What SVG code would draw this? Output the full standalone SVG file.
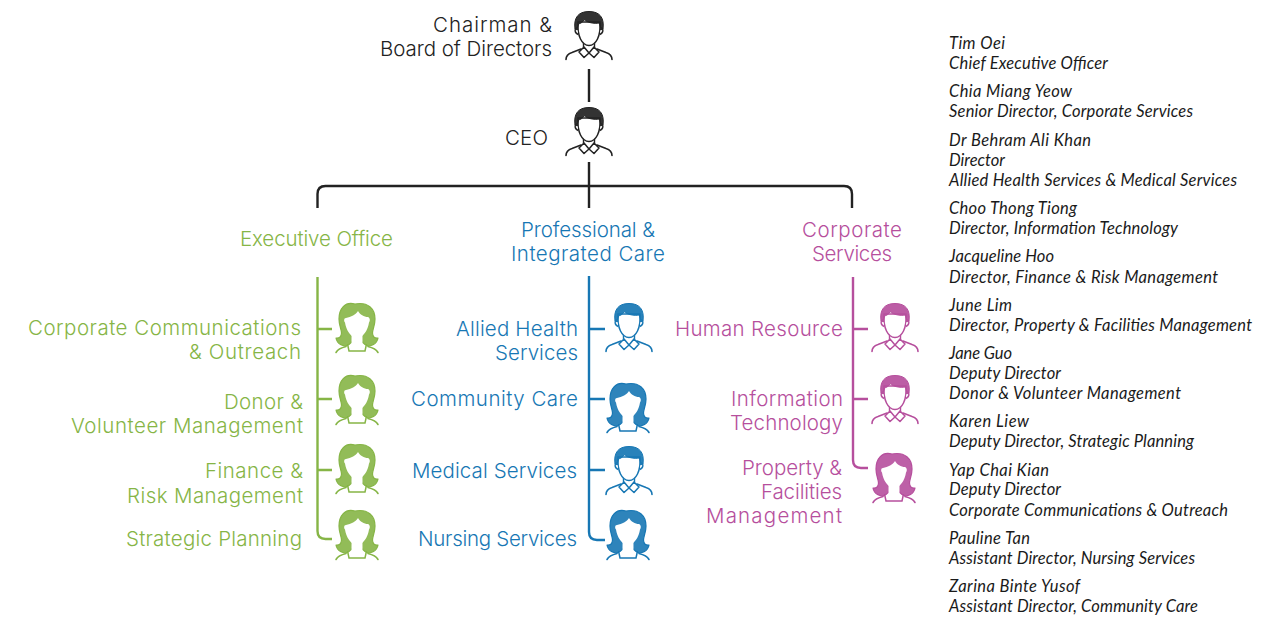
<svg xmlns="http://www.w3.org/2000/svg" width="1280" height="618" viewBox="0 0 1280 618">
<style>
text{font-family:"Lato","Liberation Sans",sans-serif}
.h{font-family:"Inter","Liberation Sans",sans-serif;font-size:20.5px;font-weight:300}
.k{color:#222;fill:#222}
.g{color:#86b546;fill:#86b546}
.b{color:#1777b4;fill:#1777b4}
.p{color:#b64f9d;fill:#b64f9d}
.i{font-size:16.5px;font-style:italic;fill:#1a1a1a}
.c{fill:none;stroke-width:2.4;stroke-linecap:butt}
</style>
<defs>
<g id="man">
<path d="M-23,47.5C-23,43 -20,41.5 -17,40.5L-8,37M23,47.5C23,43 20,41.5 17,40.5L8,37" fill="none" stroke="currentColor" stroke-width="1.6" stroke-linecap="round"/>
<path d="M0,41L-5,35L-10,40L-5,45.5ZM0,41L5,35L10,40L5,45.5Z" fill="#fff" stroke="currentColor" stroke-width="1.5" stroke-linejoin="round"/>
<path d="M-5.5,30V35M5.5,30V35" stroke="currentColor" stroke-width="1.4"/>
<path d="M-11,10C-12,24 -7,33.500 0,33.500C7,33.500 12,24 11,10Z" fill="#fff" stroke="currentColor" stroke-width="1.5"/>
<path d="M-11.500,16C-14.500,15 -15,21 -11,22.500M11.500,16C14.500,15 15,21 11,22.500" fill="#fff" stroke="currentColor" stroke-width="1.4"/>
<path d="M-14,17C-15.500,6 -11,-0.500 0,-0.500C11,-0.500 15.500,6 14,17L11.500,18L10.500,11C5,12 -2,10.500 -5,7.500C-6,10.500 -9,11.500 -10.500,12L-11.500,18Z" fill="currentColor" fill-opacity=".92" stroke="currentColor" stroke-width="1" stroke-linejoin="round"/>
</g>
<g id="woman">
<path d="M-21,49.500C-19,46 -15,44.500 -11,43.500M21,49.500C19,46 15,44.500 11,43.500" fill="none" stroke="currentColor" stroke-width="1.600" stroke-linecap="round"/>
<path d="M-9.500,41L-8,48H8L9.500,41" fill="#fff" stroke="currentColor" stroke-width="1.500"/>
<path d="M-2,1C-12,-2 -18,6 -18,16C-18,23 -15.500,26 -15.500,30C-15.500,34 -18,35.500 -21,35C-20,41 -13,45 -8,41.500C-5,39.500 -4.500,36 -5.500,33.500H5.500C4.500,36 5,39.500 8,41.500C13,45 20,41 21,35C18,35.500 15.500,34 15.500,30C15.500,26 18,23 18,16C18,6 11,-1.500 -2,1Z" fill="currentColor" fill-opacity=".9" stroke="currentColor" stroke-width="1.200" stroke-linejoin="round"/>
<path d="M-11,15C-6,14 -1,11.500 1,8C3,11.500 7,14 11,14C13.500,15 13,18.500 12,19.500C11,27 6,35 0,35C-6,35 -11,27 -12,19.500C-13,18.500 -13.500,15 -11,15Z" fill="#fff"/>
<path d="M-5.500,32V39.500L0,41.500L5.500,39.500V32Z" fill="#fff"/>
</g>
</defs>

<g id="connectors" class="c">
<path d="M589,69V102M589,162V208M317.500,208V194Q317.500,186 325.500,186H844Q852,186 852,194V208" stroke="#222"/>
<path d="M317.500,277V531Q317.500,539 325.500,539H332M317.500,329H332M317.500,399H332M317.500,470H332" stroke="#86b546"/>
<path d="M589,276V532Q589,540 597,540H605M589,329H605M589,399H605M589,470H605" stroke="#1777b4"/>
<path d="M853,277V460Q853,468 861,468H868M853,329H868M853,399H868" stroke="#b64f9d"/>
</g>

<g id="chairman" class="k"><use href="#man" x="589" y="12"/>
<text class="h" x="433" y="32" textLength="119">Chairman &amp;</text>
<text class="h" x="380" y="56" textLength="172">Board of Directors</text></g>
<g id="ceo" class="k"><use href="#man" x="589" y="108"/>
<text class="h" x="505" y="145" textLength="43">CEO</text></g>

<g id="executive-office" class="g"><text class="h" x="240" y="246" textLength="153">Executive Office</text></g>
<g id="professional-care" class="b"><text class="h" x="521" y="237" textLength="134">Professional &amp;</text>
<text class="h" x="511" y="261" textLength="154">Integrated Care</text></g>
<g id="corporate-services" class="p"><text class="h" x="802" y="237" textLength="100">Corporate</text>
<text class="h" x="812" y="261" textLength="80">Services</text></g>

<g id="corp-comm" class="g"><use href="#woman" x="357" y="303"/>
<text class="h" x="28" y="335" textLength="273">Corporate Communications</text>
<text class="h" x="189" y="359" textLength="112">&amp; Outreach</text></g>
<g id="donor" class="g"><use href="#woman" x="357" y="375"/>
<text class="h" x="224" y="409" textLength="79">Donor &amp;</text>
<text class="h" x="71" y="433" textLength="232">Volunteer Management</text></g>
<g id="finance" class="g"><use href="#woman" x="357" y="444"/>
<text class="h" x="205" y="478" textLength="98">Finance &amp;</text>
<text class="h" x="127" y="503" textLength="176">Risk Management</text></g>
<g id="strategic" class="g"><use href="#woman" x="357" y="510"/>
<text class="h" x="126" y="546" textLength="176">Strategic Planning</text></g>

<g id="allied" class="b"><use href="#man" x="629" y="304"/>
<text class="h" x="456" y="336" textLength="122">Allied Health</text>
<text class="h" x="495" y="360" textLength="83">Services</text></g>
<g id="community" class="b"><use href="#woman" x="628" y="383"/>
<text class="h" x="411" y="406" textLength="167">Community Care</text></g>
<g id="medical" class="b"><use href="#man" x="629" y="447"/>
<text class="h" x="412" y="478" textLength="165">Medical Services</text></g>
<g id="nursing" class="b"><use href="#woman" x="628" y="510"/>
<text class="h" x="418" y="546" textLength="159">Nursing Services</text></g>

<g id="hr" class="p"><use href="#man" x="895" y="304"/>
<text class="h" x="675" y="336" textLength="168">Human Resource</text></g>
<g id="it" class="p"><use href="#man" x="895" y="376"/>
<text class="h" x="731" y="406" textLength="112">Information</text>
<text class="h" x="730" y="430" textLength="113">Technology</text></g>
<g id="property" class="p"><use href="#woman" x="894" y="453"/>
<text class="h" x="742" y="475" textLength="100">Property &amp;</text>
<text class="h" x="761" y="499" textLength="81">Facilities</text>
<text class="h" x="706" y="523" textLength="136">Management</text></g>

<g id="directory">
<text class="i" x="949" y="49" textLength="56">Tim Oei</text>
<text class="i" x="949" y="69" textLength="159">Chief Executive Officer</text>
<text class="i" x="949" y="97" textLength="123">Chia Miang Yeow</text>
<text class="i" x="949" y="117" textLength="244">Senior Director, Corporate Services</text>
<text class="i" x="949" y="146" textLength="142">Dr Behram Ali Khan</text>
<text class="i" x="949" y="166" textLength="56">Director</text>
<text class="i" x="949" y="186" textLength="288">Allied Health Services &amp; Medical Services</text>
<text class="i" x="949" y="214" textLength="128">Choo Thong Tiong</text>
<text class="i" x="949" y="234" textLength="229">Director, Information Technology</text>
<text class="i" x="949" y="262" textLength="105">Jacqueline Hoo</text>
<text class="i" x="949" y="283" textLength="269">Director, Finance &amp; Risk Management</text>
<text class="i" x="949" y="311" textLength="63">June Lim</text>
<text class="i" x="949" y="331" textLength="303">Director, Property &amp; Facilities Management</text>
<text class="i" x="949" y="359" textLength="63">Jane Guo</text>
<text class="i" x="949" y="379" textLength="112">Deputy Director</text>
<text class="i" x="949" y="399" textLength="232">Donor &amp; Volunteer Management</text>
<text class="i" x="949" y="427" textLength="80">Karen Liew</text>
<text class="i" x="949" y="447" textLength="245">Deputy Director, Strategic Planning</text>
<text class="i" x="949" y="476" textLength="100">Yap Chai Kian</text>
<text class="i" x="949" y="495" textLength="112">Deputy Director</text>
<text class="i" x="949" y="516" textLength="279">Corporate Communications &amp; Outreach</text>
<text class="i" x="949" y="544" textLength="81">Pauline Tan</text>
<text class="i" x="949" y="564" textLength="246">Assistant Director, Nursing Services</text>
<text class="i" x="949" y="592" textLength="131">Zarina Binte Yusof</text>
<text class="i" x="949" y="612" textLength="249">Assistant Director, Community Care</text>
</g>
</svg>
